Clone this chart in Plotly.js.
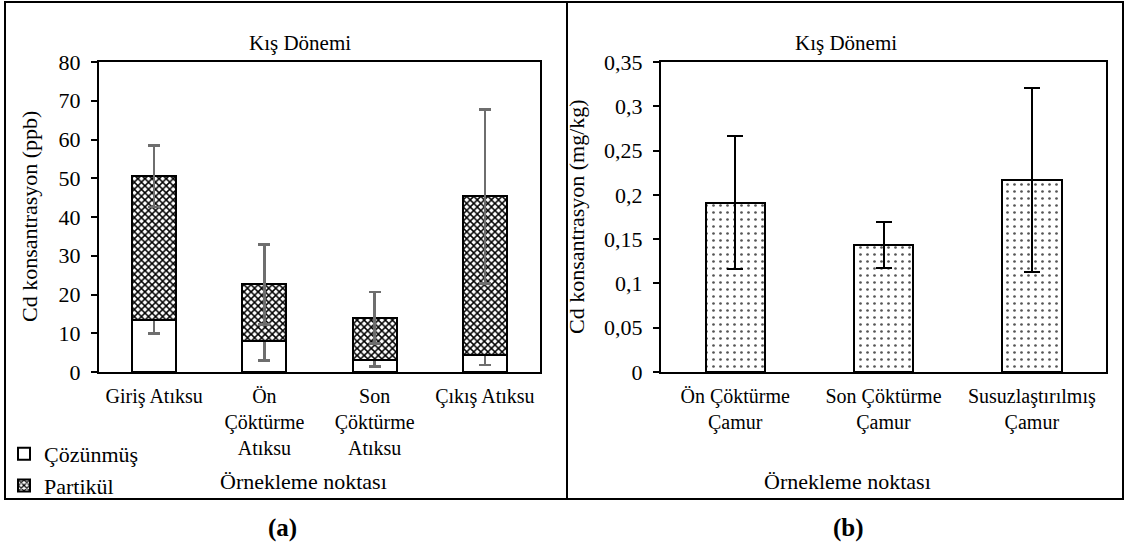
<!DOCTYPE html>
<html>
<head>
<meta charset="utf-8">
<script src="https://cdn.plot.ly/plotly-3.0.1.min.js"></script>
<style>
html,body{margin:0;padding:0;background:#fff;}
#chart{width:1125px;height:557px;}
</style>
</head>
<body>
<div id="chart"></div>
<script>
// ---- Data (a): Cd in wastewater, ppb ----
const catsA = ["Giriş Atıksu", "Ön<br>Çöktürme<br>Atıksu", "Son<br>Çöktürme<br>Atıksu", "Çıkış Atıksu"];
const cozunmus = [13.3, 8.0, 3.0, 4.3];
const cozunmusErr = [3.3, 5.0, 1.6, 2.5];
const partikul = [37.2, 14.6, 11.0, 41.0];
const partikulErr = [7.9, 10.3, 6.6, 22.5];

// ---- Data (b): Cd in sludge, mg/kg ----
const catsB = ["Ön Çöktürme<br>Çamur", "Son Çöktürme<br>Çamur", "Susuzlaştırılmış<br>Çamur"];
const camur = [0.191, 0.143, 0.217];
const camurErr = [0.075, 0.026, 0.104];

const W = 1125, H = 557;
const px = v => v / W;
const py = v => 1 - v / H;
const FONT = "Liberation Serif, Times New Roman, serif";
const FS = 22;

const traces = [
  {
    type: "bar", name: "Çözünmüş", x: catsA, y: cozunmus, xaxis: "x", yaxis: "y",
    marker: {color: "#ffffff", line: {color: "#000", width: 2}},
    error_y: {type: "data", array: cozunmusErr, visible: true, color: "#6e6e6e", thickness: 2.5, width: 6}
  },
  {
    type: "bar", name: "Partikül", x: catsA, y: partikul, xaxis: "x", yaxis: "y",
    marker: {color: "#ffffff", line: {color: "#000", width: 2},
      pattern: {shape: "x", size: 5, solidity: 0.5, fgcolor: "#000", bgcolor: "#fff"}},
    error_y: {type: "data", array: partikulErr, visible: true, color: "#6e6e6e", thickness: 2.5, width: 6}
  },
  {
    type: "bar", name: "Çamur", x: catsB, y: camur, xaxis: "x2", yaxis: "y2", showlegend: false,
    marker: {color: "#ffffff", line: {color: "#000", width: 2},
      pattern: {shape: ".", size: 7, solidity: 0.12, fgcolor: "#555", bgcolor: "#fff"}},
    error_y: {type: "data", array: camurErr, visible: true, color: "#000", thickness: 2, width: 8}
  }
];

const axisCommon = {
  showline: true, linecolor: "#000", linewidth: 2, mirror: true,
  showgrid: false, zeroline: false,
  tickfont: {family: FONT, size: FS, color: "#000"}
};
const xTickFont = {family: FONT, size: 20, color: "#000"};

function ann(text, x, y, extra) {
  return Object.assign({text: text, xref: "paper", yref: "paper", x: px(x), y: py(y),
    xanchor: "center", yanchor: "middle", showarrow: false,
    font: {family: FONT, size: FS, color: "#000"}}, extra || {});
}

const layout = {
  width: W, height: H,
  margin: {l: 0, r: 0, t: 0, b: 0},
  paper_bgcolor: "#fff", plot_bgcolor: "#fff",
  barmode: "stack", bargap: 0.6,
  separators: ", ",
  font: {family: FONT, size: FS, color: "#000"},
  showlegend: true,
  legend: {x: px(4), y: py(433), xanchor: "left", yanchor: "top", traceorder: "normal",
    font: {family: FONT, size: FS, color: "#000"}, bgcolor: "rgba(0,0,0,0)", itemwidth: 30},
  xaxis: Object.assign({}, axisCommon, {domain: [px(99), px(540)], anchor: "y", ticks: "", type: "category", range: [-0.5, 3.5], tickfont: xTickFont, ticklabelstandoff: 5}),
  yaxis: Object.assign({}, axisCommon, {domain: [py(372), py(62)], anchor: "x", range: [0, 80], dtick: 10, ticks: "outside", ticklen: 6, tickwidth: 2, tickcolor: "#000", ticklabelstandoff: 6}),
  xaxis2: Object.assign({}, axisCommon, {domain: [px(661), px(1106)], anchor: "y2", ticks: "", type: "category", range: [-0.5, 2.5], tickfont: xTickFont, ticklabelstandoff: 5}),
  yaxis2: Object.assign({}, axisCommon, {domain: [py(372), py(62)], anchor: "x2", range: [0, 0.35], dtick: 0.05, ticks: "outside", ticklen: 6, tickwidth: 2, tickcolor: "#000", ticklabelstandoff: 6}),
  shapes: [
    {type: "rect", xref: "paper", yref: "paper", x0: px(5), x1: px(567), y0: py(499), y1: py(2), line: {color: "#000", width: 2}},
    {type: "rect", xref: "paper", yref: "paper", x0: px(567), x1: px(1123), y0: py(499), y1: py(2), line: {color: "#000", width: 2}}
  ],
  annotations: [
    ann("Kış Dönemi", 300, 43, {font: {family: FONT, size: 21, color: "#000"}}),
    ann("Kış Dönemi", 846, 43, {font: {family: FONT, size: 21, color: "#000"}}),
    ann("Cd konsantrasyon (ppb)", 30, 217, {textangle: -90}),
    ann("Cd konsantrasyon (mg/kg)", 577, 217, {textangle: -90}),
    ann("Örnekleme noktası", 303, 482),
    ann("Örnekleme noktası", 847, 482),
    ann("<b>(a)</b>", 282, 528, {font: {family: FONT, size: 25, color: "#000"}}),
    ann("<b>(b)</b>", 848, 528, {font: {family: FONT, size: 25, color: "#000"}})
  ]
};

Plotly.newPlot("chart", traces, layout, {displayModeBar: false, staticPlot: true});
</script>
</body>
</html>
